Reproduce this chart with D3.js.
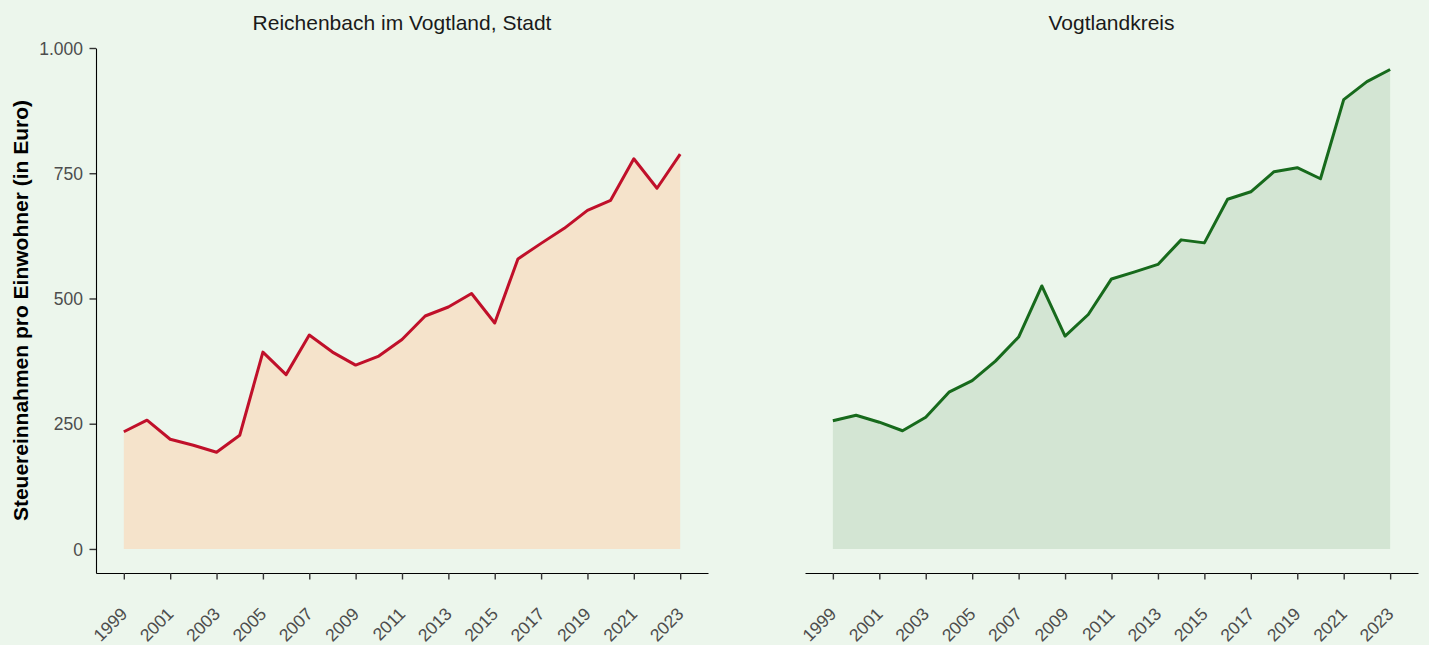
<!DOCTYPE html>
<html>
<head>
<meta charset="utf-8">
<script src="https://cdn.jsdelivr.net/npm/d3@7"></script>
<style>
  body { margin: 0; background: #ECF6EC; }
  svg { display: block; font-family: "Liberation Sans", Arial, sans-serif; }
</style>
</head>
<body>
<div id="chart"></div>
<script>
const WIDTH = 1429;
const HEIGHT = 645;
const BG = "#ECF6EC";

// Daten
const years = d3.range(1999, 2024);
const reichenbach = [234, 257, 219, 207, 193, 227, 393, 348, 427, 393, 367, 385, 418,
                     465, 483, 510, 451, 579, 610, 640, 676, 696, 779, 720, 788];
const vogtlandkreis = [256, 267, 253, 236, 263, 313, 336, 375, 423, 525, 425, 468, 539,
                       553, 568, 617, 611, 698, 713, 753, 761, 739, 897, 933, 957];
const panelTitles = ["Reichenbach im Vogtland, Stadt", "Vogtlandkreis"];
const yTicks = [0, 250, 500, 750, 1000];
const xTicks = d3.range(1999, 2024, 2);
const yTitle = "Steuereinnahmen pro Einwohner (in Euro)";

const panels = [
  {title: panelTitles[0], values: reichenbach, x0: 96, x1: 708, fill: "#F5E3CB", line: "#C0102A", yAxis: true},
  {title: panelTitles[1], values: vogtlandkreis, x0: 805, x1: 1418, fill: "#D3E5D3", line: "#176A1C", yAxis: false}
];

const TOP = 48, BOTTOM = 573;
const TICK_FONT = "17.5px";

const y = d3.scaleLinear().domain([-48, 1000]).range([BOTTOM, TOP]);
const fmt = d3.formatLocale({decimal: ",", thousands: ".", grouping: [3], currency: ["", "€"]}).format(",");

const svg = d3.select("#chart")
  .append("svg")
  .attr("width", WIDTH)
  .attr("height", HEIGHT);

svg.append("rect")
  .attr("width", WIDTH)
  .attr("height", HEIGHT)
  .attr("fill", BG);

panels.forEach(p => {
  const x = d3.scaleLinear().domain([1999 - 1.2, 2023 + 1.2]).range([p.x0, p.x1]);
  const data = years.map((yr, i) => ({year: yr, value: p.values[i]}));
  const g = svg.append("g");

  g.append("path")
    .datum(data)
    .attr("fill", p.fill)
    .attr("d", d3.area().x(d => x(d.year)).y0(y(0)).y1(d => y(d.value)));

  g.append("path")
    .datum(data)
    .attr("fill", "none")
    .attr("stroke", p.line)
    .attr("stroke-width", 3)
    .attr("stroke-linejoin", "round")
    .attr("d", d3.line().x(d => x(d.year)).y(d => y(d.value)));

  // x-Achse
  const xa = g.append("g")
    .attr("transform", `translate(0,${BOTTOM})`)
    .call(d3.axisBottom(x).tickValues(xTicks).tickFormat(d3.format("d")).tickSize(6.5).tickSizeOuter(0));
  xa.attr("font-family", null).attr("font-size", null);
  xa.select(".domain").attr("stroke", "#000").attr("stroke-width", 1.1);
  xa.selectAll(".tick line").attr("stroke", "#333").attr("stroke-width", 1.4);
  xa.selectAll(".tick text")
    .style("font-size", TICK_FONT)
    .attr("fill", "#4D4D4D")
    .attr("text-anchor", "end")
    .attr("y", 0)
    .attr("dy", 0)
    .attr("transform", "translate(4,42) rotate(-45)");

  if (p.yAxis) {
    const ya = g.append("g")
      .attr("transform", `translate(${p.x0},0)`)
      .call(d3.axisLeft(y).tickValues(yTicks).tickFormat(fmt).tickSize(6.5).tickSizeOuter(0));
    ya.attr("font-family", null).attr("font-size", null);
    ya.select(".domain").attr("stroke", "#000").attr("stroke-width", 1.1);
    ya.selectAll(".tick line").attr("stroke", "#333").attr("stroke-width", 1.4);
    ya.selectAll(".tick text")
      .style("font-size", TICK_FONT)
      .attr("fill", "#4D4D4D")
      .attr("x", -13)
      .attr("dy", "0.35em");
  }

  g.append("text")
    .attr("x", (p.x0 + p.x1) / 2)
    .attr("y", 30)
    .attr("text-anchor", "middle")
    .style("font-size", "21px")
    .attr("fill", "#1A1A1A")
    .text(p.title);
});

svg.append("text")
  .attr("transform", `translate(28,${(TOP + BOTTOM) / 2}) rotate(-90)`)
  .attr("text-anchor", "middle")
  .style("font-size", "21px")
  .attr("font-weight", "bold")
  .attr("fill", "#000")
  .text(yTitle);
</script>
</body>
</html>
